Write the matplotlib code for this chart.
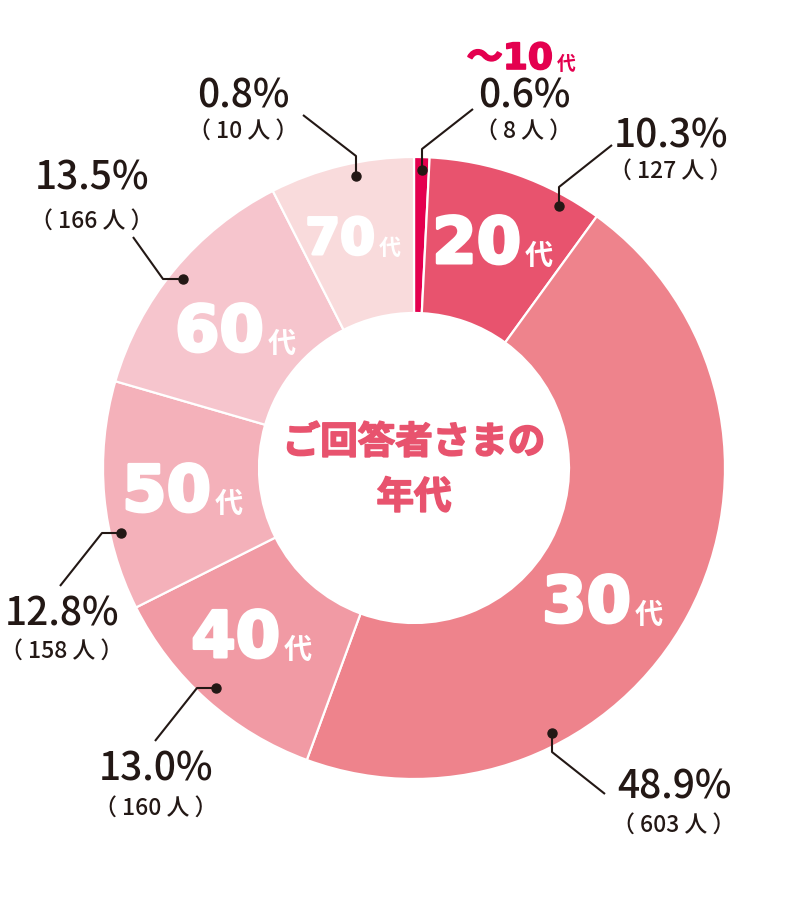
import matplotlib
matplotlib.use('Agg')
import matplotlib.pyplot as plt
import matplotlib.patheffects as pe

# age groups, clockwise from 12 o'clock
ages = ['〜10', '20', '30', '40', '50', '60', '70']
percents = [0.6, 10.3, 48.9, 13.0, 12.8, 13.5, 0.8]
people = [8, 127, 603, 160, 158, 166, 10]
# slice sizes as they are drawn in the original graphic (70代 is drawn larger than its share)
drawn_share = [0.8, 9.2, 45.6, 12.0, 11.9, 13.0, 7.5]
colors = ['#E4004F', '#E8536E', '#EE838C', '#F19AA4', '#F4B1BA', '#F6C5CD', '#F9DBDC']

ink = '#231815'
jp = ['Noto Sans CJK JP', 'DejaVu Sans']
big = ['DejaVu Sans', 'Noto Sans CJK JP']

fig = plt.figure(figsize=(7.88, 9.04), dpi=100)
ax = fig.add_axes([0, 0, 1, 1])

# y axis is flipped (pixel coords), so visual clockwise = counterclockwise here
ax.pie(drawn_share, colors=colors, startangle=270, counterclock=True,
       radius=311, center=(414, 469),
       wedgeprops=dict(width=156, edgecolor='white', linewidth=1.6))
ax.set_xlim(0, 788)
ax.set_ylim(904, 0)
ax.set_aspect('equal')
ax.axis('off')

# center title
title_fx = [pe.withStroke(linewidth=1.2, foreground='#E8536E')]
ax.text(414, 443, 'ご回答者さまの', ha='center', va='center', fontsize=27,
        fontweight='bold', color='#E8536E', family=jp, path_effects=title_fx)
ax.text(414, 498, '年代', ha='center', va='center', fontsize=27,
        fontweight='bold', color='#E8536E', family=jp, path_effects=title_fx)

# labels inside slices: (junction x, baseline y, size)
inner_pos = [None, (521, 264, 46), (631, 623, 46), (280, 658, 46),
             (211, 512, 46), (264, 352, 46), (375, 255, 36)]
heavy = [pe.withStroke(linewidth=2.2, foreground='white')]
for age, pos in zip(ages, inner_pos):
    if pos is None:
        continue
    x, y, s = pos
    ax.text(x, y, age, ha='right', va='baseline', fontsize=s,
            fontweight='bold', color='white', family=big, path_effects=heavy)
    ax.text(x + 4, y, '代', ha='left', va='baseline', fontsize=s * 0.44,
            fontweight='bold', color='white', family=jp)

# 〜10代 title above the thin slice
red_fx = [pe.withStroke(linewidth=1.2, foreground='#E4004F')]
ax.text(553, 70, ages[0], ha='right', va='baseline', fontsize=26,
        fontweight='bold', color='#E4004F', family=big, path_effects=red_fx)
ax.text(557, 70, '代', ha='left', va='baseline', fontsize=13.5,
        fontweight='bold', color='#E4004F', family=jp)

# percentage labels: (center x, baseline of % line, baseline of people line)
label_pos = [(524, 108, 138), (671, 147, 178), (674, 799, 832), (156, 781, 815),
             (62, 626, 658), (92, 189, 228), (243, 108, 138)]
for p, n, (x, y1, y2) in zip(percents, people, label_pos):
    ax.text(x, y1, f'{p:.1f}%', ha='center', va='baseline', fontsize=28,
            fontweight='medium', color=ink, family=jp)
    ax.text(x, y2, f'（ {n} 人 ）', ha='center', va='baseline', fontsize=16.5,
            fontweight='medium', color=ink, family=jp)

# leader lines: dot first, then elbow, then end near the label
leaders = [
    [(422, 171), (422, 150), (473, 110)],
    [(559, 207), (559, 188), (612, 146)],
    [(552, 734), (552, 753), (605, 795)],
    [(216, 689), (197, 689), (155, 742)],
    [(121, 534), (102, 534), (60, 587)],
    [(183, 280), (163, 280), (133, 238)],
    [(356, 177), (356, 157), (303, 116)],
]
for pts in leaders:
    xs = [q[0] for q in pts]
    ys = [q[1] for q in pts]
    ax.plot(xs, ys, color=ink, linewidth=1.5, solid_capstyle='butt')
    ax.plot(xs[0], ys[0], 'o', color=ink, markersize=6.5)

fig.savefig('out.png', dpi=100)
